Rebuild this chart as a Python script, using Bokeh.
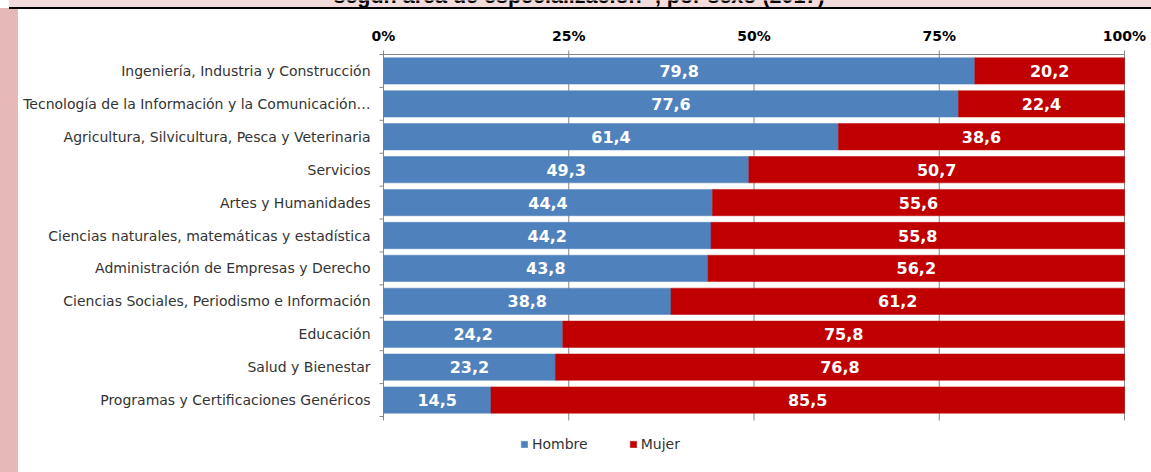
from bokeh.plotting import figure
from bokeh.models import ColumnDataSource, Legend, LegendItem, Label
from bokeh.core.properties import value
from bokeh.embed import file_html
from bokeh.resources import INLINE

categories = [
    "Ingeniería, Industria y Construcción",
    "Tecnología de la Información y la Comunicación…",
    "Agricultura, Silvicultura, Pesca y Veterinaria",
    "Servicios",
    "Artes y Humanidades",
    "Ciencias naturales, matemáticas y estadística",
    "Administración de Empresas y Derecho",
    "Ciencias Sociales, Periodismo e Información",
    "Educación",
    "Salud y Bienestar",
    "Programas y Certificaciones Genéricos",
]
hombre = [79.8, 77.6, 61.4, 49.3, 44.4, 44.2, 43.8, 38.8, 24.2, 23.2, 14.5]
mujer = [20.2, 22.4, 38.6, 50.7, 55.6, 55.8, 56.2, 61.2, 75.8, 76.8, 85.5]
series_names = ["Hombre", "Mujer"]
x_ticks = [0, 25, 50, 75, 100]
x_tick_labels = ["0%", "25%", "50%", "75%", "100%"]
title_text = "según área de especialización ¹, por sexo (2017)"

BLUE = "#4f81bd"
RED = "#c00000"
GRAY = "#868686"
FONT = "DejaVu Sans"

W, H = 1151, 472
PLOT_L, PLOT_R, PLOT_T, PLOT_B = 383, 1124, 54, 416   # bar area in pixels

n = len(categories)
ypos = [n - 1 - i for i in range(n)]
fmt = lambda v: f"{v:.1f}".replace(".", ",")

PX_X = (PLOT_R - PLOT_L) / 100.0      # pixels per percent
PX_Y = (PLOT_B - PLOT_T) / n          # pixels per category row
bar_lo, bar_hi = -0.5, n - 0.5
dx = lambda px: px / PX_X
dy = lambda px: px / PX_Y

src = ColumnDataSource(dict(
    y=ypos,
    cat=categories,
    h=hombre,
    m=mujer,
    total=[a + b for a, b in zip(hombre, mujer)],
    hx=[a / 2 for a in hombre],
    mx=[a + b / 2 for a, b in zip(hombre, mujer)],
    hl=[fmt(v) for v in hombre],
    ml=[fmt(v) for v in mujer],
))

p = figure(width=W, height=H,
           x_range=(-dx(PLOT_L), 100 + dx(W - PLOT_R)),
           y_range=(bar_hi - dy(H - PLOT_T), bar_hi + dy(PLOT_T)),
           x_axis_location=None, y_axis_location=None,
           output_backend="svg", toolbar_location=None,
           min_border_left=0, min_border_right=0, min_border_top=0,
           min_border_bottom=0)
p.border_fill_color = None
p.background_fill_color = None
p.outline_line_color = None
p.xgrid.visible = False
p.ygrid.visible = False
p.styles = {
    "background": (
        "linear-gradient(#000,#000) 9px 7px / 100% 2px no-repeat, "
        "linear-gradient(#f2dcdb,#f2dcdb) 9px 0px / 100% 8px no-repeat, "
        "linear-gradient(#e6b8b7,#e6b8b7) 0px 8px / 18px 100% no-repeat, "
        "white"
    ),
}

m = len(x_ticks)
# vertical gridlines (x=0 doubles as the category axis line), small ticks below
p.segment(x0=x_ticks, x1=x_ticks, y0=[bar_lo - dy(4)] * m, y1=[bar_hi + dy(4)] * m,
          line_color=GRAY, line_width=1)
# top value axis line
p.segment(x0=[0], x1=[100], y0=[bar_hi], y1=[bar_hi], line_color=GRAY, line_width=1)
# category axis ticks at row boundaries
bounds = [k - 0.5 for k in range(n + 1)]
p.segment(x0=[0] * len(bounds), x1=[-dx(4)] * len(bounds), y0=bounds, y1=bounds,
          line_color=GRAY, line_width=1)

r1 = p.hbar(y="y", left=0, right="h", height=0.8, source=src,
            fill_color=BLUE, line_color=BLUE, line_width=0.5)
r2 = p.hbar(y="y", left="h", right="total", height=0.8, source=src,
            fill_color=RED, line_color=RED, line_width=0.5)

for xcol, tcol in (("hx", "hl"), ("mx", "ml")):
    p.text(x=xcol, y="y", text=tcol, source=src, text_color="white",
           text_font=value(FONT), text_font_style="bold", text_font_size="16px",
           text_align="center", text_baseline="middle")

# top axis tick labels
p.text(x=x_ticks, y=[bar_hi + dy(19)] * m, text=x_tick_labels, text_color="black",
       text_font=value(FONT), text_font_style="bold", text_font_size="14px",
       text_align="center", text_baseline="alphabetic")

# category labels
p.text(x=[-dx(13)] * n, y=ypos, text=categories, text_color="#333333",
       text_font=value(FONT), text_font_size="14px",
       text_align="right", text_baseline="middle")

legend = Legend(items=[LegendItem(label=series_names[0], renderers=[r1]),
                       LegendItem(label=series_names[1], renderers=[r2])],
                orientation="horizontal", location=(520, 20),
                glyph_width=8, glyph_height=8, label_height=8, label_standoff=4,
                spacing=41, padding=0, margin=0, border_line_color=None,
                background_fill_alpha=0, label_text_font=FONT,
                label_text_font_size="14px", label_text_color="#333333")
p.add_layout(legend)

p.add_layout(Label(x=dx(578.5 - PLOT_L), y=bar_hi + dy(PLOT_T + 5), text=title_text,
                   text_align="center", text_baseline="alphabetic",
                   text_font="Liberation Sans", text_font_style="bold",
                   text_font_size="21.5px", text_color="black"))

open("out.html", "w").write(file_html(p, INLINE))
